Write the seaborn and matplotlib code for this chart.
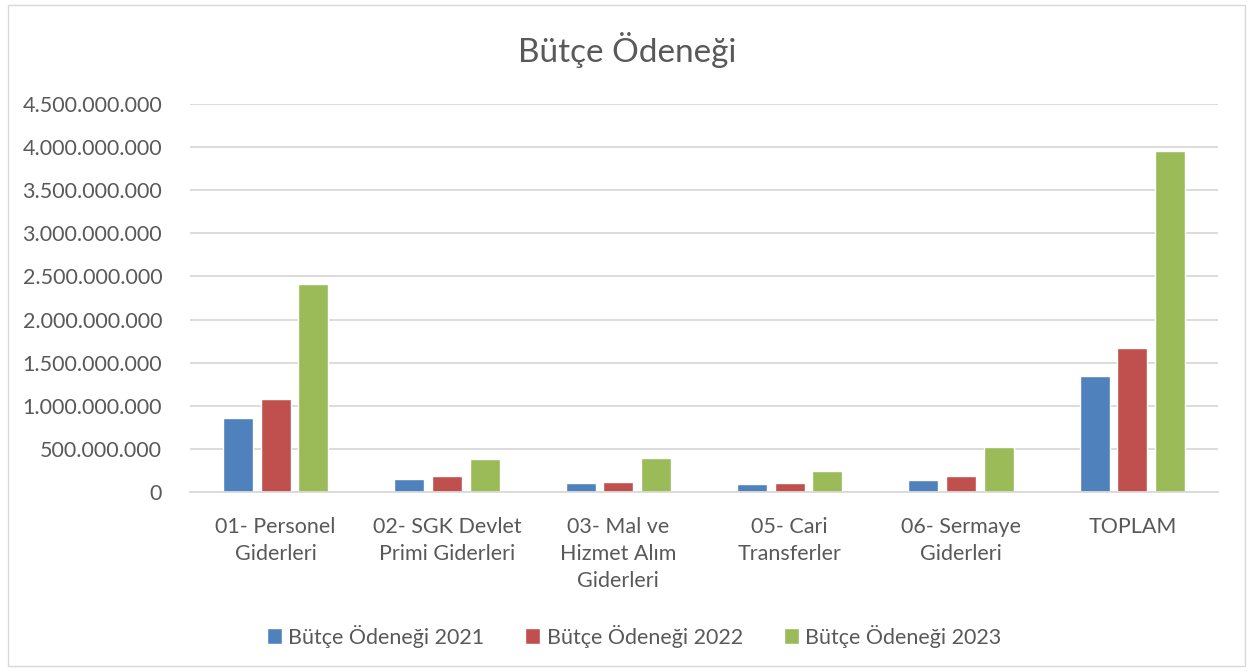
import pandas as pd
import matplotlib.pyplot as plt
import matplotlib.ticker as mticker
from matplotlib.patches import Rectangle
import seaborn as sns

# veriler
kategoriler = ["01- Personel\nGiderleri", "02- SGK Devlet\nPrimi Giderleri",
               "03- Mal ve\nHizmet Alım\nGiderleri", "05- Cari\nTransferler",
               "06- Sermaye\nGiderleri", "TOPLAM"]
seriler = ["Bütçe Ödeneği 2021", "Bütçe Ödeneği 2022", "Bütçe Ödeneği 2023"]
odenek_2021 = [855e6, 147e6, 101e6, 89e6, 136e6, 1340e6]
odenek_2022 = [1075e6, 182e6, 113e6, 101e6, 182e6, 1667e6]
odenek_2023 = [2410e6, 380e6, 390e6, 240e6, 520e6, 3950e6]
renkler = ["#4F81BD", "#C0504D", "#9BBB59"]

rows = []
for seri, degerler in zip(seriler, [odenek_2021, odenek_2022, odenek_2023]):
    for kat, v in zip(kategoriler, degerler):
        rows.append({"kategori": kat, "seri": seri, "deger": v})
df = pd.DataFrame(rows)

sns.set_style("white")
plt.rcParams["font.family"] = ["Lato", "DejaVu Sans"]
gri = "#595959"

fig = plt.figure(figsize=(12.51, 6.71), dpi=100)
fig.patches.append(Rectangle((8 / 1251, 5 / 671), 1237 / 1251, 661 / 671,
                             transform=fig.transFigure, fill=False,
                             edgecolor="#d9d9d9", linewidth=1))
ax = fig.add_axes([190 / 1251, 1 - 492 / 671, 1028 / 1251, 388 / 671])

sns.barplot(data=df, x="kategori", y="deger", hue="seri", palette=renkler,
            width=0.66, gap=0.2, ax=ax, saturation=1, legend=True)

ax.set_ylim(0, 4.5e9)
ax.yaxis.set_major_locator(mticker.MultipleLocator(5e8))
ax.yaxis.set_major_formatter(mticker.FuncFormatter(
    lambda v, p: f"{int(v):,}".replace(",", ".")))
ax.grid(axis="y", color="#d9d9d9", linewidth=1.3)
ax.set_axisbelow(True)
for s in ["top", "right", "left"]:
    ax.spines[s].set_visible(False)
ax.spines["bottom"].set_color("#d9d9d9")
ax.spines["bottom"].set_linewidth(1.3)
ax.tick_params(axis="both", length=0, colors=gri, labelsize=15.5)
ax.tick_params(axis="x", pad=18)
ax.tick_params(axis="y", pad=20)
for lbl in ax.get_xticklabels():
    lbl.set_linespacing(1.45)
ax.set_xlabel("")
ax.set_ylabel("")

fig.text(627 / 1251, 1 - 50 / 671, "Bütçe Ödeneği", ha="center", va="center",
         fontsize=24, color=gri)

h, l = ax.get_legend_handles_labels()
ax.get_legend().remove()
fig.legend(h, l, loc="center", bbox_to_anchor=(634 / 1251, 1 - 636 / 671),
           ncol=3, frameon=False, fontsize=15.5, labelcolor=gri,
           handlelength=0.7, handleheight=0.7, handletextpad=0.3,
           columnspacing=1.9)

plt.savefig("out.png", dpi=100)
